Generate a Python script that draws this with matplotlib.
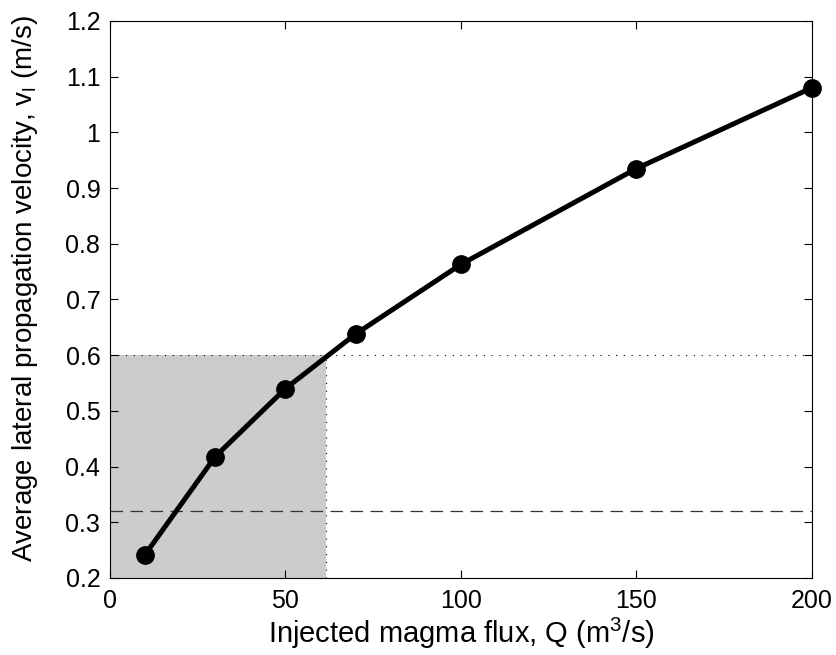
import numpy as np
import matplotlib.pyplot as plt
from matplotlib.ticker import FuncFormatter

plt.rcParams['font.family'] = ['Liberation Sans', 'DejaVu Sans']
plt.rcParams['mathtext.fontset'] = 'custom'
plt.rcParams['mathtext.rm'] = 'Liberation Sans'
plt.rcParams['mathtext.it'] = 'Liberation Sans'

# Data
flux = [10, 30, 50, 70, 100, 150, 200]
velocity = [0.242, 0.418, 0.540, 0.638, 0.763, 0.935, 1.080]
v_threshold = 0.6
q_threshold = 61.5
v_dashed = 0.32

fig = plt.figure(figsize=(8.37, 6.55), dpi=100)
ax = fig.add_axes([0.1314, 0.1176, 0.8386, 0.8504])

# shaded region and guide lines
ax.fill_between([0, q_threshold], 0.2, v_threshold, color='#cccccc', lw=0, zorder=1)
ax.plot([0, 200], [v_threshold, v_threshold], color='black', lw=0.8,
        dashes=(1, 6), zorder=2)
ax.plot([q_threshold, q_threshold], [0.2, v_threshold], color='black', lw=0.8,
        dashes=(1, 6), zorder=2)
ax.plot([0, 200], [v_dashed, v_dashed], color='#333333', lw=0.9,
        dashes=(10, 6), zorder=2)

ax.plot(flux, velocity, '-o', color='black', lw=3.6, markersize=12.5, zorder=3,
        clip_on=False)

ax.set_xlim(0, 200)
ax.set_ylim(0.2, 1.2)
ax.set_xticks([0, 50, 100, 150, 200])
ax.set_yticks(np.arange(0.2, 1.21, 0.1))
ax.yaxis.set_major_formatter(FuncFormatter(lambda v, p: '%g' % round(v, 2)))
ax.tick_params(direction='in', top=True, right=True, labelsize=18, length=6,
               width=0.8)
ax.tick_params(axis='y', pad=7)
ax.tick_params(axis='x', pad=8)
for s in ax.spines.values():
    s.set_linewidth(0.8)

ax.set_xlabel('Injected magma flux, Q (m$^3$/s)', fontsize=21, labelpad=2)
ax.set_ylabel('Average lateral propagation velocity, v$_\\mathrm{l}$ (m/s)',
              fontsize=20)
ax.yaxis.set_label_coords(-0.1, 0.52)

fig.savefig('out.png', dpi=100)
